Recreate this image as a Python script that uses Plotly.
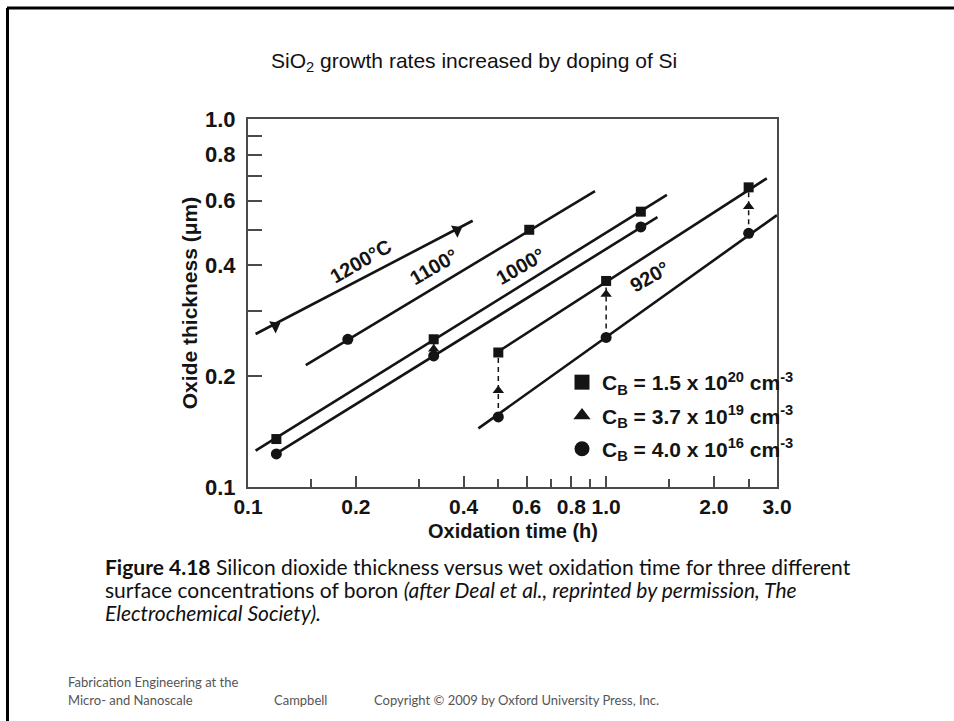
import numpy as np
import plotly.graph_objects as go

# ---- fitted oxide-growth lines (log-log straight segments) ----
line_temp = ["1200", "1100", "1000", "1000", "920", "920"]
line_t0 = [0.105, 0.145, 0.105, 0.1195, 0.495, 0.44]
line_t1 = [0.424, 0.931, 1.478, 1.391, 2.81, 3.0]
line_h0 = [0.2605, 0.2145, 0.1255, 0.123, 0.232, 0.1443]
line_h1 = [0.529, 0.637, 0.622, 0.541, 0.690, 0.548]

# ---- measured points ----
# C_B = 1.5e20 cm^-3
sq_t = [0.61, 0.12, 0.33, 1.25, 0.5, 1.0, 2.5]
sq_h = [0.50, 0.135, 0.252, 0.56, 0.232, 0.363, 0.652]
# C_B = 3.7e19 cm^-3
tri_t = [0.33, 0.5, 1.0, 2.5]
tri_h = [0.237, 0.183, 0.334, 0.578]
# C_B = 4.0e16 cm^-3
circ_t = [0.19, 0.12, 0.33, 1.25, 0.5, 1.0, 2.5]
circ_h = [0.252, 0.123, 0.227, 0.509, 0.155, 0.255, 0.489]
# 1200 C points (all dopings coincide)
hot_t = [0.119, 0.383]
hot_h = [0.274, 0.499]

# dashed connectors between lightly and heavily doped points
conn_t = [0.33, 0.5, 1.0, 2.5]
conn_lo = [0.227, 0.155, 0.255, 0.489]
conn_hi = [0.252, 0.232, 0.363, 0.652]

# temperature labels along the lines
temp_text = ["1200°C", "1100°", "1000°", "920°"]
temp_t = [0.2066, 0.329, 0.578, 1.318]
temp_h = [0.412, 0.397, 0.399, 0.372]

# axis ticks
x_labeled = [0.1, 0.2, 0.4, 0.6, 0.8, 1.0, 2.0, 3.0]
x_labels = ["0.1", "0.2", "0.4", "0.6", "0.8", "1.0", "2.0", "3.0"]
x_minor = [0.15, 0.3, 0.5, 0.7, 0.9, 1.5, 2.5]
y_ticks = [0.1, 0.2, 0.3, 0.4, 0.5, 0.6, 0.7, 0.8, 0.9, 1.0]
y_labels = ["0.1", "0.2", "", "0.4", "", "0.6", "", "0.8", "", "1.0"]

W, H = 954, 721
ML, MR, MT, MB = 248, 177, 119, 234
PW, PH = W - ML - MR, H - MT - MB

BOLD = "Liberation Sans, Arial, Helvetica, sans-serif"
INK = "#141414"


def px(x):
    return (x - ML) / PW


def py(y):
    return 1 - (y - MT) / PH


fig = go.Figure()

for t0, t1, h0, h1 in zip(line_t0, line_t1, line_h0, line_h1):
    fig.add_trace(go.Scatter(x=[t0, t1], y=[h0, h1], mode="lines",
                             line=dict(color=INK, width=2.6),
                             showlegend=False, hoverinfo="skip"))

for t, lo, hi in zip(conn_t, conn_lo, conn_hi):
    fig.add_trace(go.Scatter(x=[t, t], y=[lo, hi], mode="lines",
                             line=dict(color=INK, width=1.5, dash="5px,4px"),
                             showlegend=False, hoverinfo="skip"))

fig.add_trace(go.Scatter(x=sq_t, y=sq_h, mode="markers", showlegend=False,
                         marker=dict(symbol="square", size=10, color=INK)))
fig.add_trace(go.Scatter(x=tri_t, y=tri_h, mode="markers", showlegend=False,
                         marker=dict(symbol="triangle-up", size=10, color=INK)))
fig.add_trace(go.Scatter(x=circ_t, y=circ_h, mode="markers", showlegend=False,
                         marker=dict(symbol="circle", size=11, color=INK)))
fig.add_trace(go.Scatter(x=hot_t, y=hot_h, mode="markers", showlegend=False,
                         marker=dict(symbol="triangle-up", size=12, color=INK, angle=62)))

# legend entries (one group each so the group gap spaces the rows)
leg_names = ["C<sub>B</sub> = 1.5 x 10<sup>20</sup> cm<sup>-3</sup>",
             "C<sub>B</sub> = 3.7 x 10<sup>19</sup> cm<sup>-3</sup>",
             "C<sub>B</sub> = 4.0 x 10<sup>16</sup> cm<sup>-3</sup>"]
leg_symbols = ["square", "triangle-up", "circle"]
for i, (name, sym) in enumerate(zip(leg_names, leg_symbols)):
    fig.add_trace(go.Scatter(x=[None], y=[None], mode="markers", name=name,
                             legendgroup=f"g{i}",
                             marker=dict(symbol=sym, size=15, color=INK)))

for txt, t, h in zip(temp_text, temp_t, temp_h):
    fig.add_annotation(x=np.log10(t), y=np.log10(h), text=txt, showarrow=False,
                       textangle=-30, font=dict(family=BOLD, size=20, color=INK,
                                                weight="bold"))

axis_common = dict(type="log", showline=True, mirror=True, linecolor="#4a4a4a",
                   linewidth=2, ticks="inside", tickcolor="#4a4a4a", tickwidth=1.5,
                   showgrid=False, zeroline=False, tickangle=0)

fig.update_xaxes(**axis_common, range=[-1, np.log10(3.0)],
                 tickmode="array", tickvals=x_labeled, ticktext=x_labels, ticklen=11,
                 ticklabelstandoff=0,
                 tickfont=dict(family=BOLD, size=21, color=INK, weight="bold"),
                 minor=dict(tickmode="array", tickvals=x_minor, ticks="inside",
                            ticklen=8, tickcolor="#4a4a4a", tickwidth=1.5))
fig.update_yaxes(**axis_common, range=[-1, 0],
                 tickmode="array", tickvals=y_ticks, ticktext=y_labels, ticklen=14,
                 ticklabelstandoff=6,
                 tickfont=dict(family=BOLD, size=22, color=INK, weight="bold"),
                 title=dict(text="Oxide thickness (μm)", standoff=2,
                            font=dict(family=BOLD, size=21, color=INK, weight="bold")))

# x-axis title
fig.add_annotation(xref="paper", yref="paper", x=0.5, y=py(531), yanchor="middle",
                   text="Oxidation time (h)", showarrow=False,
                   font=dict(family=BOLD, size=20, color=INK, weight="bold"))

# slide title
fig.add_annotation(xref="paper", yref="paper", x=px(474), y=py(62), yanchor="middle",
                   text="SiO<sub>2</sub> growth rates increased by doping of Si",
                   showarrow=False, font=dict(family="Liberation Sans, Arial, sans-serif",
                                              size=21, color="#111"))

# figure caption
CAP = "Lato, Open Sans, sans-serif"
cap_lines = ["<b>Figure 4.18</b> Silicon dioxide thickness versus wet oxidation time for three different",
             "surface concentrations of boron <i>(after Deal et al., reprinted by permission, The</i>",
             "<i>Electrochemical Society).</i>"]
for i, line in enumerate(cap_lines):
    fig.add_annotation(xref="paper", yref="paper", x=px(103), y=py(566 + 23 * i),
                       xanchor="left", yanchor="middle", text=line, showarrow=False,
                       font=dict(family=CAP, size=21, color="#111"))

# footer
FOOT = dict(family=CAP, size=13, color="#555")
foot_items = [("Fabrication Engineering at the", 66, 682),
              ("Micro- and Nanoscale", 66, 700),
              ("Campbell", 272, 700),
              ("Copyright © 2009 by Oxford University Press, Inc.", 372, 700)]
for txt, fx, fy in foot_items:
    fig.add_annotation(xref="paper", yref="paper", x=px(fx), y=py(fy), xanchor="left",
                       yanchor="middle", text=txt, showarrow=False, font=FOOT)

# slide frame (top and left rules)
fig.add_shape(type="line", xref="paper", yref="paper", x0=px(7), x1=px(954),
              y0=py(8), y1=py(8), line=dict(color="#000", width=3), layer="above")
fig.add_shape(type="line", xref="paper", yref="paper", x0=px(7.5), x1=px(7.5),
              y0=py(8), y1=py(721), line=dict(color="#000", width=3), layer="above")

fig.update_layout(
    width=W, height=H, margin=dict(l=ML, r=MR, t=MT, b=MB),
    paper_bgcolor="white", plot_bgcolor="white",
    legend=dict(x=px(562), y=py(362), xanchor="left", yanchor="top",
                bgcolor="rgba(0,0,0,0)", itemwidth=30, tracegroupgap=3,
                traceorder="grouped",
                font=dict(family=BOLD, size=21, color=INK, weight="bold")),
)

fig.write_html("out.html")
